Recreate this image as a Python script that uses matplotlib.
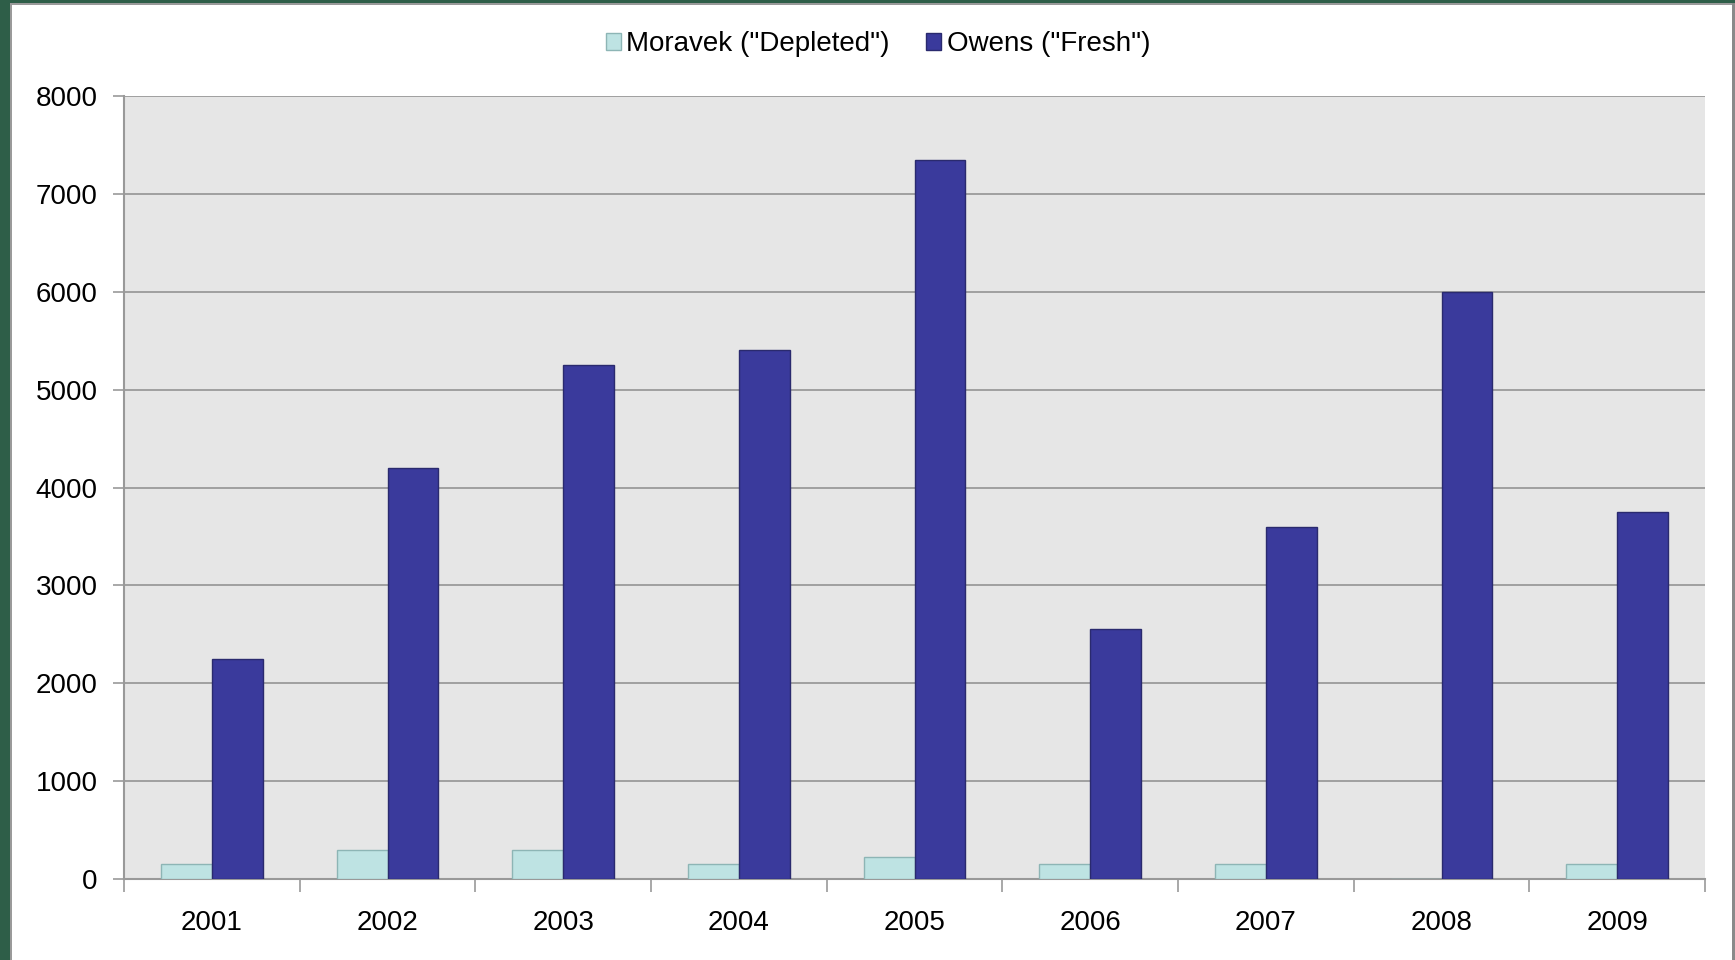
import numpy as np
import matplotlib.pyplot as plt
from matplotlib.patches import Rectangle

plt.rcParams['font.family'] = ['Liberation Sans', 'DejaVu Sans']

# Data
years = ['2001', '2002', '2003', '2004', '2005', '2006', '2007', '2008', '2009']
moravek = [150, 300, 300, 150, 225, 150, 150, 0, 150]
owens = [2250, 4200, 5250, 5400, 7350, 2550, 3600, 6000, 3750]
yticks = [0, 1000, 2000, 3000, 4000, 5000, 6000, 7000, 8000]

W, H = 1735, 960
fig = plt.figure(figsize=(W / 100, H / 100), dpi=100, facecolor='white')

# dark green frame around the slide area with a thin grey inner line
fig.patches.append(Rectangle((0, 0), 10 / W, 1, transform=fig.transFigure,
                             facecolor='#2E5E48', edgecolor='none', zorder=0))
fig.patches.append(Rectangle((0, 1 - 3 / H), 1, 3 / H, transform=fig.transFigure,
                             facecolor='#2E5E48', edgecolor='none', zorder=0))
fig.patches.append(Rectangle((10 / W, 0), 2 / W, 1 - 3 / H, transform=fig.transFigure,
                             facecolor='#9A9A9A', edgecolor='none', zorder=0))
fig.patches.append(Rectangle((10 / W, 1 - 5 / H), 1 - 10 / W, 2 / H, transform=fig.transFigure,
                             facecolor='#9A9A9A', edgecolor='none', zorder=0))
fig.patches.append(Rectangle((1 - 3 / W, 0), 3 / W, 1 - 3 / H, transform=fig.transFigure,
                             facecolor='#8A8A8A', edgecolor='none', zorder=0))

left, right, top, bottom = 124, 1705, 96, 879
ax = fig.add_axes([left / W, 1 - bottom / H, (right - left) / W, (bottom - top) / H])
ax.set_facecolor('#E6E6E6')

x = np.arange(len(years))
w = 0.29
ax.bar(x - w / 2, moravek, w, color='#BEE3E3', edgecolor='#8DB5B5', linewidth=1,
       label='Moravek ("Depleted")', zorder=3)
ax.bar(x + w / 2, owens, w, color='#3A3A9C', edgecolor='#2A2A6E', linewidth=1,
       label='Owens ("Fresh")', zorder=3)

ax.set_xlim(-0.5, len(years) - 0.5)
ax.set_ylim(0, 8000)
ax.set_yticks(yticks)
ax.set_yticklabels([str(v) for v in yticks])
ax.yaxis.grid(True, color='#8C8C8C', linewidth=1.1)
ax.set_axisbelow(True)

# category labels centred, ticks between categories
ax.set_xticks(x)
ax.set_xticklabels(years)
ax.set_xticks(np.arange(len(years) + 1) - 0.5, minor=True)
ax.tick_params(axis='x', which='major', length=0, pad=22, labelsize=20)
ax.tick_params(axis='x', which='minor', length=9, color='#999999', width=1.2)
ax.tick_params(axis='y', length=8, color='#999999', width=1.2, pad=11, labelsize=20)

for s in ['top', 'right']:
    ax.spines[s].set_visible(False)
for s in ['left', 'bottom']:
    ax.spines[s].set_color('#999999')
    ax.spines[s].set_linewidth(1.5)

fig.legend(loc='center', bbox_to_anchor=(878 / W, 1 - 44 / H), ncol=2, frameon=False,
           fontsize=20, handlelength=0.55, handleheight=0.55, handletextpad=0.2,
           columnspacing=1.3)

fig.savefig('out.png', dpi=100, facecolor='white')
